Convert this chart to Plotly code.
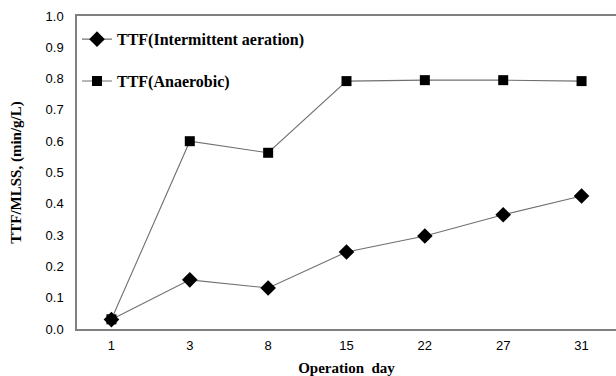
import plotly.graph_objects as go

days = ["1", "3", "8", "15", "22", "27", "31"]
ttf_intermittent = [0.030, 0.157, 0.131, 0.246, 0.297, 0.365, 0.425]
ttf_anaerobic = [0.031, 0.600, 0.563, 0.792, 0.795, 0.795, 0.792]
y_ticks = [0.0, 0.1, 0.2, 0.3, 0.4, 0.5, 0.6, 0.7, 0.8, 0.9, 1.0]

fig = go.Figure()
fig.add_trace(go.Scatter(
    x=days, y=ttf_intermittent, mode="lines+markers",
    name="TTF(Intermittent aeration)", legendgroup="a",
    line=dict(color="#707070", width=1.1),
    marker=dict(symbol="diamond", size=12, color="black"),
))
fig.add_trace(go.Scatter(
    x=days, y=ttf_anaerobic, mode="lines+markers",
    name="TTF(Anaerobic)", legendgroup="b",
    line=dict(color="#707070", width=1.1),
    marker=dict(symbol="square", size=10, color="black"),
))

fig.update_layout(
    width=616, height=376,
    margin=dict(l=77, r=0, t=16, b=47),
    paper_bgcolor="white", plot_bgcolor="white",
    showlegend=True,
    legend=dict(
        x=0.0, y=0.98, xanchor="left", yanchor="top",
        bgcolor="rgba(0,0,0,0)", traceorder="grouped", tracegroupgap=18,
        font=dict(family="Liberation Serif", size=16, color="black", weight="bold"),
        itemwidth=30,
    ),
    xaxis=dict(
        type="category", showgrid=False, showline=True, linecolor="#808080",
        linewidth=1.5, mirror=True, ticks="", ticklabelstandoff=4,
        tickfont=dict(family="Liberation Sans Narrow, Liberation Sans", size=13, color="black"),
        title=dict(text="Operation  day", standoff=10,
                   font=dict(family="Liberation Serif", size=15, color="black", weight="bold")),
    ),
    yaxis=dict(
        range=[0, 1.0], tickvals=y_ticks, tickformat=".1f", showgrid=False,
        showline=True, linecolor="#808080", linewidth=1.5, ticks="", zeroline=False,
        ticklabelstandoff=9,
        tickfont=dict(family="Liberation Sans Narrow, Liberation Sans", size=13, color="black"),
        title=dict(text="TTF/MLSS, (min/g/L)", standoff=20,
                   font=dict(family="Liberation Serif", size=15, color="black", weight="bold")),
    ),
)

fig.write_html("out.html")
